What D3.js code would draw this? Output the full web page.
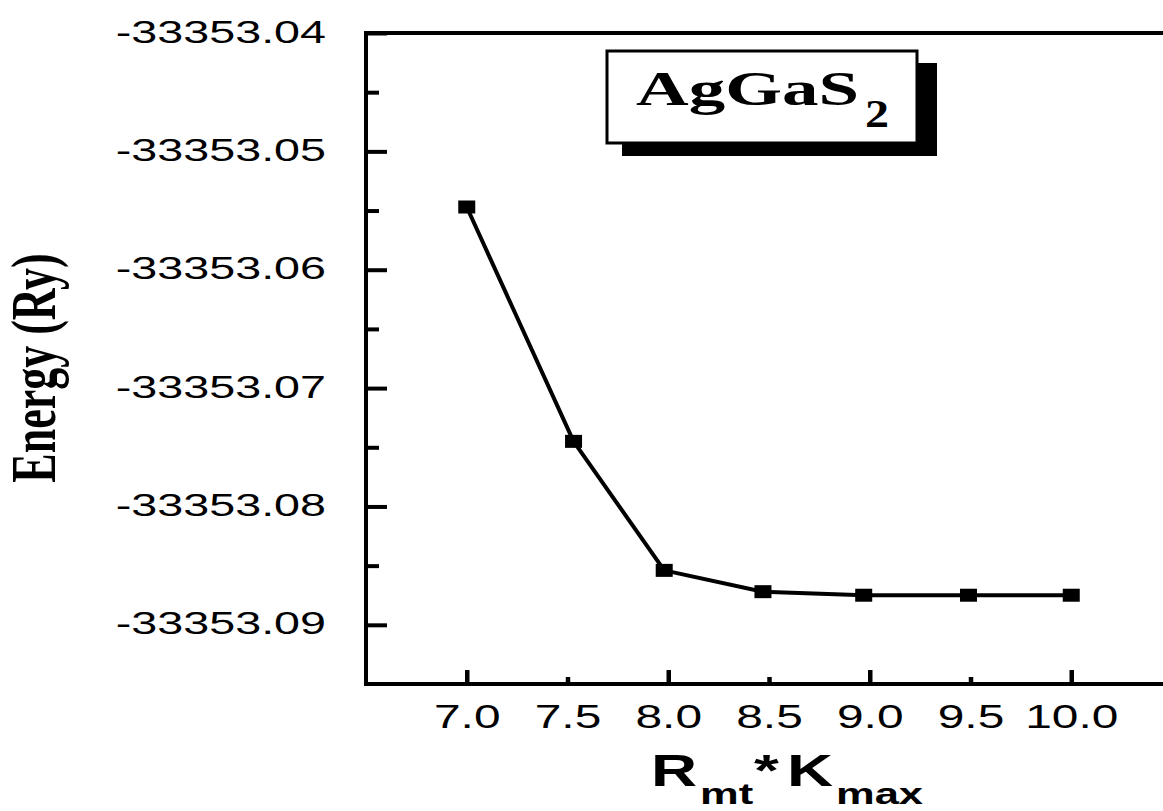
<!DOCTYPE html>
<html lang="en">
<head>
    <meta charset="UTF-8">
    <title>AgGaS2 energy convergence</title>
    <script src="https://d3js.org/d3.v7.min.js"></script>
    <style>
        body {
            margin: 0;
            padding: 0;
            background-color: #ffffff;
        }
        svg {
            display: block;
            background-color: #ffffff;
        }
    </style>
</head>
<body>
    <svg></svg>
    <script>
        // values
        const xValues = [7.0, 7.53, 7.98, 8.47, 8.97, 9.49, 10.0];
        const energies = [-33353.0547, -33353.0745, -33353.0854, -33353.0872, -33353.0875, -33353.0875, -33353.0875];

        const xTicks = [7.0, 7.5, 8.0, 8.5, 9.0, 9.5, 10.0];
        const xTickLabels = ["7.0", "7.5", "8.0", "8.5", "9.0", "9.5", "10.0"];
        const yTicks = [-33353.09, -33353.08, -33353.07, -33353.06, -33353.05, -33353.04];
        const yTickLabels = ["-33353.09", "-33353.08", "-33353.07", "-33353.06", "-33353.05", "-33353.04"];
        const yMinorTicks = [-33353.085, -33353.075, -33353.065, -33353.055, -33353.045];

        const width = 1163;
        const height = 811;

        const svg = d3.select("svg")
            .attr("width", width)
            .attr("height", height);

        const x = d3.scaleLinear().domain([6.5, 10.5]).range([366, 1172]);
        const y = d3.scaleLinear().domain([-33353.095, -33353.04]).range([684, 33]);

        // stretch text horizontally like the (widened) original
        function stretch(sel, k) {
            sel.each(function () {
                const len = this.getComputedTextLength();
                d3.select(this)
                    .attr("textLength", len * k)
                    .attr("lengthAdjust", "spacingAndGlyphs");
            });
        }

        // frame
        svg.append("rect")
            .attr("x", x.range()[0])
            .attr("y", y.range()[1])
            .attr("width", x.range()[1] - x.range()[0])
            .attr("height", y.range()[0] - y.range()[1])
            .attr("fill", "none")
            .attr("stroke", "#000")
            .attr("stroke-width", 4);

        // x axis
        const gx = svg.append("g")
            .attr("transform", `translate(0,${y.range()[0]})`)
            .call(d3.axisBottom(x)
                .tickValues(xTicks)
                .tickFormat((d, i) => xTickLabels[i])
                .tickSizeOuter(0));
        gx.select(".domain").remove();
        gx.selectAll(".tick line")
            .attr("y2", d => Number.isInteger(d) ? -14 : -7)
            .attr("stroke", "#000")
            .attr("stroke-width", 4.5);
        gx.selectAll(".tick text")
            .attr("y", 44)
            .attr("dy", null)
            .attr("fill", "#000")
            .attr("font-family", "'Liberation Sans', Arial, sans-serif")
            .attr("font-size", 33)
            .call(stretch, 1.45);

        // y axis, major ticks with labels
        const gy = svg.append("g")
            .attr("transform", `translate(${x.range()[0]},0)`)
            .call(d3.axisLeft(y)
                .tickValues(yTicks)
                .tickFormat((d, i) => yTickLabels[i])
                .tickSizeOuter(0));
        gy.select(".domain").remove();
        gy.selectAll(".tick line")
            .attr("x2", 21)
            .attr("stroke", "#000")
            .attr("stroke-width", 4);
        gy.selectAll(".tick text")
            .attr("x", -40)
            .attr("dy", null)
            .attr("y", 9)
            .attr("fill", "#000")
            .attr("font-family", "'Liberation Sans', Arial, sans-serif")
            .attr("font-size", 30.5)
            .call(stretch, 1.53);

        // y axis, minor ticks
        const gym = svg.append("g")
            .attr("transform", `translate(${x.range()[0]},0)`)
            .call(d3.axisLeft(y).tickValues(yMinorTicks).tickFormat(""));
        gym.select(".domain").remove();
        gym.selectAll(".tick line")
            .attr("x2", 13)
            .attr("stroke", "#000")
            .attr("stroke-width", 4);

        // data line + square markers
        const pts = xValues.map((v, i) => [v, energies[i]]);
        const line = d3.line()
            .x(d => x(d[0]))
            .y(d => y(d[1]));

        svg.append("path")
            .datum(pts)
            .attr("d", line)
            .attr("fill", "none")
            .attr("stroke", "#000")
            .attr("stroke-width", 4)
            .attr("stroke-linejoin", "round");

        svg.append("g")
            .selectAll("rect")
            .data(pts)
            .join("rect")
            .attr("x", d => x(d[0]) - 8.5)
            .attr("y", d => y(d[1]) - 6.5)
            .attr("width", 17)
            .attr("height", 13)
            .attr("fill", "#000");

        // legend box with drop shadow
        const legend = svg.append("g");
        legend.append("rect")
            .attr("x", 622).attr("y", 63)
            .attr("width", 315).attr("height", 93)
            .attr("fill", "#000");
        legend.append("rect")
            .attr("x", 607).attr("y", 51)
            .attr("width", 310).attr("height", 92)
            .attr("fill", "#fff")
            .attr("stroke", "#000")
            .attr("stroke-width", 3);
        legend.append("text")
            .attr("x", 636).attr("y", 105)
            .attr("font-family", "'Liberation Serif', 'Times New Roman', serif")
            .attr("font-weight", "bold")
            .attr("font-size", 48)
            .attr("fill", "#000")
            .text("AgGaS")
            .call(stretch, 1.52);
        legend.append("text")
            .attr("x", 865).attr("y", 127)
            .attr("font-family", "'Liberation Serif', 'Times New Roman', serif")
            .attr("font-weight", "bold")
            .attr("font-size", 40)
            .attr("fill", "#000")
            .attr("textLength", 24)
            .attr("lengthAdjust", "spacingAndGlyphs")
            .text("2");

        // y title
        svg.append("text")
            .attr("transform", "translate(55,368) scale(1.43,1) rotate(-90)")
            .attr("text-anchor", "middle")
            .attr("font-family", "'Liberation Serif', 'Times New Roman', serif")
            .attr("font-weight", "bold")
            .attr("font-size", 44)
            .attr("fill", "#000")
            .text("Energy (Ry)");

        // x title  R_mt * K_max
        const xTitleParts = [
            { t: "R", x: 651, y: 786, fs: 44 },
            { t: "mt", x: 700, y: 804, fs: 30 },
            { t: "*", x: 754, y: 786, fs: 44 },
            { t: "K", x: 787, y: 786, fs: 44 },
            { t: "max", x: 836, y: 804, fs: 30 }
        ];
        svg.append("g")
            .selectAll("text")
            .data(xTitleParts)
            .join("text")
            .attr("x", d => d.x)
            .attr("y", d => d.y)
            .attr("font-family", "'Liberation Sans', Arial, sans-serif")
            .attr("font-weight", "bold")
            .attr("font-size", d => d.fs)
            .attr("fill", "#000")
            .text(d => d.t)
            .call(stretch, 1.45);
    </script>
</body>
</html>
